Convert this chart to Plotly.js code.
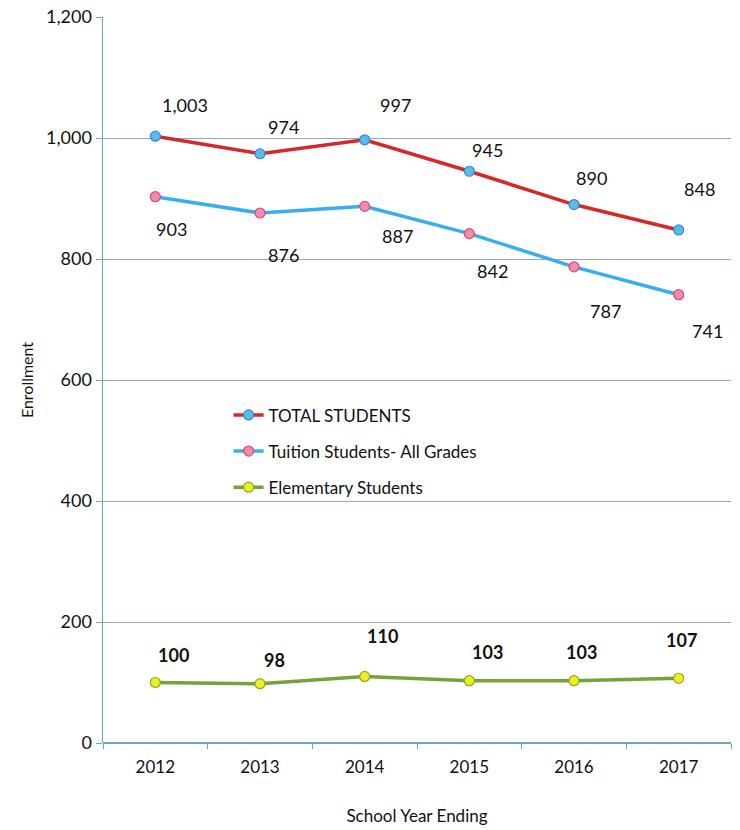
<!DOCTYPE html>
<html><head><meta charset="utf-8">
<script src="https://cdn.plot.ly/plotly-3.0.1.min.js"></script>
<style>html,body{margin:0;padding:0;background:#fff}#chart{width:740px;height:830px}</style>
</head><body><div id="chart"></div>
<script>
const years = ["2012","2013","2014","2015","2016","2017"];
const totalStudents = [1003, 974, 997, 945, 890, 848];
const tuitionStudents = [903, 876, 887, 842, 787, 741];
const elementaryStudents = [100, 98, 110, 103, 103, 107];
const seriesNames = ["TOTAL STUDENTS", "Tuition Students- All Grades", "Elementary Students"];

const FONT = "Lato, 'Open Sans', sans-serif";
const fmt = v => v.toLocaleString("en-US");

const styles = [
  {line:"#d62828", mfill:"#5cb9ea", mline:"#2f8fcf", bold:false,
   off:[[30,-31],[23,-27],[31,-35],[18,-21],[17,-27],[21,-41]]},
  {line:"#38aef0", mfill:"#f28cab", mline:"#d94a6e", bold:false,
   off:[[16,32],[23,42],[33,30],[23,37],[31,44],[29,36]]},
  {line:"#76a23c", mfill:"#eef01c", mline:"#8aa830", bold:true,
   off:[[18,-28],[14,-24],[18,-40],[18,-29],[7,-29],[3,-38]]}
];
const allSeries = [totalStudents, tuitionStudents, elementaryStudents];

const traces = allSeries.map((vals, i) => ({
  type: "scatter", mode: "lines+markers", name: seriesNames[i],
  legendgroup: "g" + i,
  x: years, y: vals,
  line: {color: styles[i].line, width: 3.5},
  marker: {size: 10, color: styles[i].mfill, line: {color: styles[i].mline, width: 1.2}},
  hoverinfo: "x+y"
}));

const annotations = [];
allSeries.forEach((vals, i) => {
  vals.forEach((v, j) => {
    annotations.push({
      x: j, y: v, xref: "x", yref: "y",
      text: styles[i].bold ? "<b>" + fmt(v) + "</b>" : fmt(v),
      showarrow: false,
      xshift: styles[i].off[j][0], yshift: -styles[i].off[j][1],
      font: {family: FONT, size: 18, color: "#111"}
    });
  });
});

const layout = {
  width: 740, height: 830,
  margin: {l: 103, r: 9, t: 17, b: 87},
  paper_bgcolor: "#fff", plot_bgcolor: "#fff",
  showlegend: true,
  legend: {x: 0.2, y: 0.476, xanchor: "left", yanchor: "top",
    font: {family: FONT, size: 17, color: "#111"},
    bgcolor: "rgba(0,0,0,0)", tracegroupgap: 11},
  xaxis: {
    type: "category", range: [-0.5, 5.5],
    showgrid: false, zeroline: false,
    showline: false,
    ticks: "outside", tickson: "boundaries", ticklen: 5, tickcolor: "#6aa8c0",
    ticklabelstandoff: 12,
    tickfont: {family: FONT, size: 17, color: "#111"},
    title: {text: "School Year Ending", font: {family: FONT, size: 17, color: "#111"}, standoff: 34}
  },
  yaxis: {
    range: [0, 1200], dtick: 200, tickformat: ",d",
    showgrid: true, gridcolor: "#93aab3", gridwidth: 1,
    zeroline: true, zerolinecolor: "#6aa8c0", zerolinewidth: 1.5,
    showline: true, linecolor: "#6aa8c0", linewidth: 1.5,
    ticks: "outside", ticklen: 6, tickcolor: "#6aa8c0",
    tickfont: {family: FONT, size: 18, color: "#111"},
    title: {text: "Enrollment", font: {family: FONT, size: 16, color: "#111"}, standoff: 8}
  },
  annotations: annotations
};

Plotly.newPlot("chart", traces, layout, {displayModeBar: false, staticPlot: true});
</script></body></html>
